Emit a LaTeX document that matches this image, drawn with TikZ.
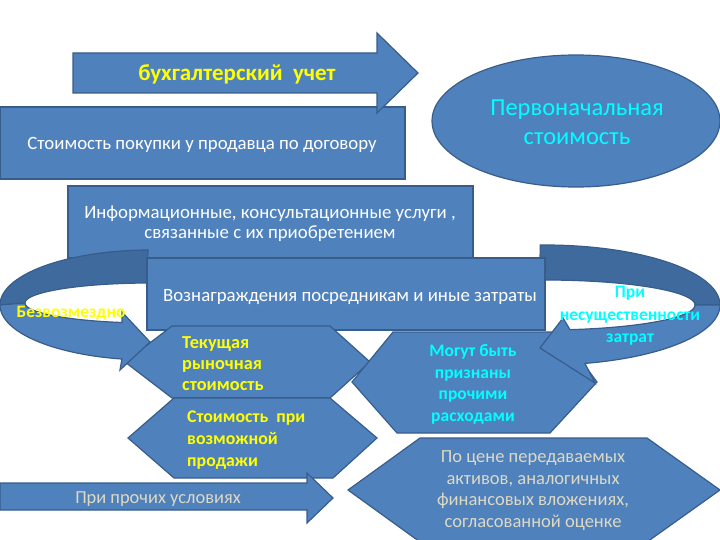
\documentclass[tikz,border=0pt]{standalone}
\usepackage{fontspec}
\setmainfont{Carlito}
\definecolor{fillb}{HTML}{4F81BD}
\definecolor{edgeb}{HTML}{385D8A}
\definecolor{darkb}{HTML}{3E6A9E}
\definecolor{tantext}{HTML}{DDD9C3}
\definecolor{yel}{HTML}{FFFF00}
\definecolor{cya}{HTML}{00FFFF}
\tikzset{
  shp/.style={fill=fillb,draw=edgeb,line width=1.2pt,line join=miter},
  bandd/.style={fill=darkb,draw=edgeb,line width=1.2pt},
  txt/.style={inner sep=0pt,align=center},
  wtxt/.style={txt,text=white,font=\fontsize{18.8}{20}\selectfont},
}
\begin{document}
\begin{tikzpicture}[x=1pt,y=-1pt]
\useasboundingbox (0,0) rectangle (720,540);
% rectangle: price by contract
\path[shp] (0,107) rectangle (405,179);
% top arrow
\path[shp] (73,53) -- (377,53) -- (377,33) -- (418,73) -- (377,113) -- (377,93) -- (73,93) -- cycle;
% ellipse
\path[shp] (576,121) ellipse [x radius=144, y radius=66];
% info rect
\path[shp] (68,186) rectangle (473,258);
% dark back bands
\path[bandd] plot[domain=269.2:180,samples=40] ({150+150*cos(\x)},{305+55*sin(\x)})
  -- plot[domain=180:269,samples=40] ({150+125*cos(\x)},{303+20*sin(\x)}) -- cycle;
\path[bandd] plot[domain=268.4:360,samples=40] ({545+175*cos(\x)},{305+60*sin(\x)})
  -- plot[domain=360:268.1,samples=40] ({545+150*cos(\x)},{305+25*sin(\x)}) -- cycle;
% rewards rect
\path[shp] (147,258) rectangle (545,330);
% hexagons
\path[shp] (125,362) -- (172,326) -- (330,326) -- (370,362) -- (330,398) -- (172,398) -- cycle;
\path[shp] (128,438) -- (174,398) -- (330,398) -- (377,438) -- (333,478) -- (174,478) -- cycle;
\path[shp] (352,382) -- (393,332) -- (560,332) -- (597,382) -- (550,433) -- (397,433) -- cycle;
\path[shp] (348,490) -- (420,438) -- (647,438) -- (720,490) -- (647,542) -- (420,542) -- cycle;
% front bands with heads
\path[shp] plot[domain=180:100.8,samples=40] ({150+150*cos(\x)},{305+55*sin(\x)})
  -- (120,370) -- (150,342) -- (122,312)
  -- plot[domain=102.9:180,samples=40] ({150+125*cos(\x)},{303+20*sin(\x)}) -- cycle;
\path[shp] plot[domain=0:76.8,samples=40] ({545+175*cos(\x)},{305+60*sin(\x)})
  -- (595,383) -- (540,348) -- (563,318)
  -- plot[domain=80.4:0,samples=40] ({545+150*cos(\x)},{305+25*sin(\x)}) -- cycle;
% bottom arrow
\path[shp] (0,483) -- (307,483) -- (307,473) -- (333,498) -- (307,523) -- (307,510) -- (0,510) -- cycle;
% texts
\node[txt,text=yel,font=\bfseries\fontsize{23}{26}\selectfont] (buh) at (237,74) {бухгалтерский\ \ учет};
\node[wtxt] (pok) at (202,145) {Стоимость покупки у продавца по договору};
\node[txt,text=cya,font=\fontsize{24.5}{29}\selectfont] (perv) at (577,122) {Первоначальная\\стоимость};
\node[wtxt] (info) at (270,224) {Информационные, консультационные услуги ,\\связанные с их приобретением};
\node[wtxt] (voz) at (350,297) {Вознаграждения посредникам и иные затраты};
\node[txt,text=yel,font=\bfseries\fontsize{17.4}{18}\selectfont] (bez) at (71,313) {Безвозмездно};
\node[txt,text=cya,font=\bfseries\fontsize{17.5}{22.5}\selectfont] (nes) at (630,316) {При\\несущественности\\затрат};
\node[txt,align=left,anchor=west,text=yel,font=\bfseries\fontsize{18.3}{21}\selectfont] (tek) at (182,364) {Текущая\\рыночная\\стоимость};
\node[txt,align=left,anchor=west,text=yel,font=\bfseries\fontsize{17.8}{22}\selectfont] (voz2) at (187,440) {Стоимость\ \ при\\возможной\\продажи};
\node[txt,text=cya,font=\bfseries\fontsize{17.5}{21.7}\selectfont] (mog) at (473,384.5) {Могут быть\\признаны\\прочими\\расходами};
\node[txt,text=tantext,font=\fontsize{18.5}{21.7}\selectfont] (cen) at (533,490.5) {По цене передаваемых\\активов, аналогичных\\финансовых вложениях,\\согласованной оценке};
\node[txt,text=tantext,font=\fontsize{18.4}{20}\selectfont] (proch) at (158,499) {При прочих условиях};
\end{tikzpicture}
\end{document}
